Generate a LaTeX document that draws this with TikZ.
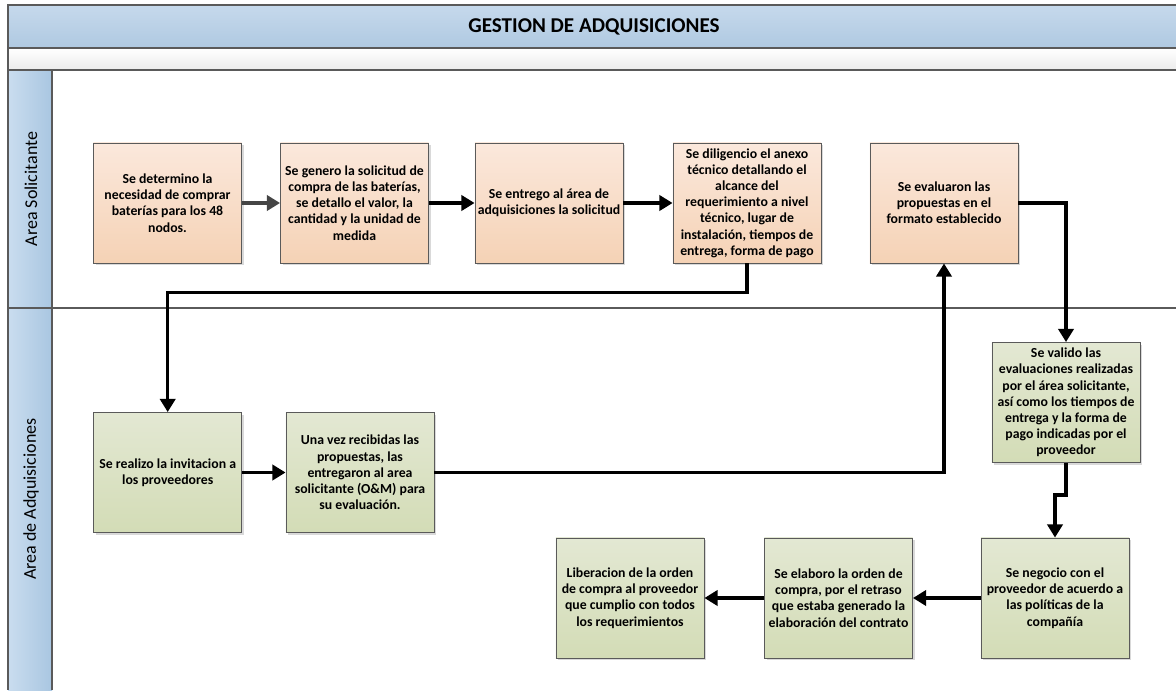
\documentclass[tikz,border=0pt]{standalone}
\usepackage{fontspec}
\setmainfont{Carlito}
\usetikzlibrary{arrows.meta,shadows}

\definecolor{bandtop}{HTML}{C6D9EC}
\definecolor{bandbot}{HTML}{AFC9E1}
\definecolor{band2}{HTML}{ECECEC}
\definecolor{lanel}{HTML}{CADDEF}
\definecolor{laner}{HTML}{A9C6E1}
\definecolor{soltop}{HTML}{FBE8DC}
\definecolor{solbot}{HTML}{F5D2B5}
\definecolor{adqtop}{HTML}{E3E8D3}
\definecolor{adqbot}{HTML}{D3DCB6}
\definecolor{boxline}{HTML}{5A5A5A}
\definecolor{arrgray}{HTML}{454545}

\begin{document}
\begin{tikzpicture}[x=0.025cm,y=-0.025cm,
  box/.style={rectangle,draw=boxline,line width=0.6pt,minimum width=3.7cm,minimum height=3cm,
    inner sep=1pt,align=center,font=\fontsize{9.8}{11.5}\selectfont\bfseries,
    drop shadow={shadow xshift=1.5pt,shadow yshift=-1.5pt,opacity=0.3}},
  solbox/.style={box,top color=soltop,bottom color=solbot},
  adqbox/.style={box,top color=adqtop,bottom color=adqbot},
  flow/.style={line width=2.5pt,-{Triangle[length=0.33cm,width=0.38cm]}},
  lane/.style={rotate=90,font=\fontsize{12.8}{14}\selectfont},
  frameline/.style={draw=boxline,line width=0.8pt}]
\useasboundingbox (0,0) rectangle (1176,690);

% marco y carriles
\shade[top color=bandtop,bottom color=bandbot] (8,5) rectangle (1176,48);
\shade[top color=white,bottom color=band2] (8,48) rectangle (1176,70);
\shade[left color=lanel,right color=laner] (8,70) rectangle (52,690);
\draw[frameline] (1176,5) -- (8,5) -- (8,690);
\draw[frameline] (8,48) -- (1176,48);
\draw[frameline,line width=1.3pt] (8,70) -- (1176,70);
\draw[frameline] (52,70) -- (52,690);
\draw[frameline] (8,308) -- (1176,308);

\node (titulo) at (594,27) [font=\fontsize{15}{16}\selectfont\bfseries] {GESTION DE ADQUISICIONES};
\node (lsol) at (31,189) [lane] {Area Solicitante};
\node (ladq) at (31,499) [lane] {Area de Adquisiciones};

% Area Solicitante
\node (nec) at (167.5,203) [solbox] {Se determino la\\necesidad de comprar\\baterías para los 48\\nodos.};
\node (gen) at (354.5,203) [solbox] {Se genero la solicitud de\\compra de las baterías,\\se detallo el valor, la\\cantidad y la unidad de\\medida};
\node (ent) at (549,203) [solbox] {Se entrego al área de\\adquisiciones la solicitud};
\node (anx) at (747,203) [solbox] {Se diligencio el anexo\\técnico detallando el\\alcance del\\requerimiento a nivel\\técnico, lugar de\\instalación, tiempos de\\entrega, forma de pago};
\node (eva) at (944,203) [solbox] {Se evaluaron las\\propuestas en el\\formato establecido};

% Area de Adquisiciones
\node (inv) at (167.7,472.5) [adqbox] {Se realizo la invitacion a\\los proveedores};
\node (rec) at (360,472.5) [adqbox] {Una vez recibidas las\\propuestas, las\\entregaron al area\\solicitante (O\&M) para\\su evaluación.};
\node (val) at (1066,402.5) [adqbox] {Se valido las\\evaluaciones realizadas\\por el área solicitante,\\así como los tiempos de\\entrega y la forma de\\pago indicadas por el\\proveedor};
\node (neg) at (1055,598) [adqbox] {Se negocio con el\\proveedor de acuerdo a\\las políticas de la\\compañía};
\node (ela) at (838.5,598) [adqbox] {Se elaboro la orden de\\compra, por el retraso\\que estaba generado la\\elaboración del contrato};
\node (lib) at (630,598) [adqbox] {Liberacion de la orden\\de compra al proveedor\\que cumplio con todos\\los requerimientos};

\draw[flow,draw=arrgray] (nec) -- (gen);
\draw[flow] (gen) -- (ent);
\draw[flow] (ent) -- (anx);
\draw[flow] (anx.south) -- ++(0,29) -| (inv.north);
\draw[flow] (inv) -- (rec);
\draw[flow] (rec.east) -| (eva.south);
\draw[flow] (eva.east) -| (val.north);
\draw[flow] (val.south) -- ++(0,32) -| (neg.north);
\draw[flow] (neg) -- (ela);
\draw[flow] (ela) -- (lib);
\end{tikzpicture}
\end{document}
